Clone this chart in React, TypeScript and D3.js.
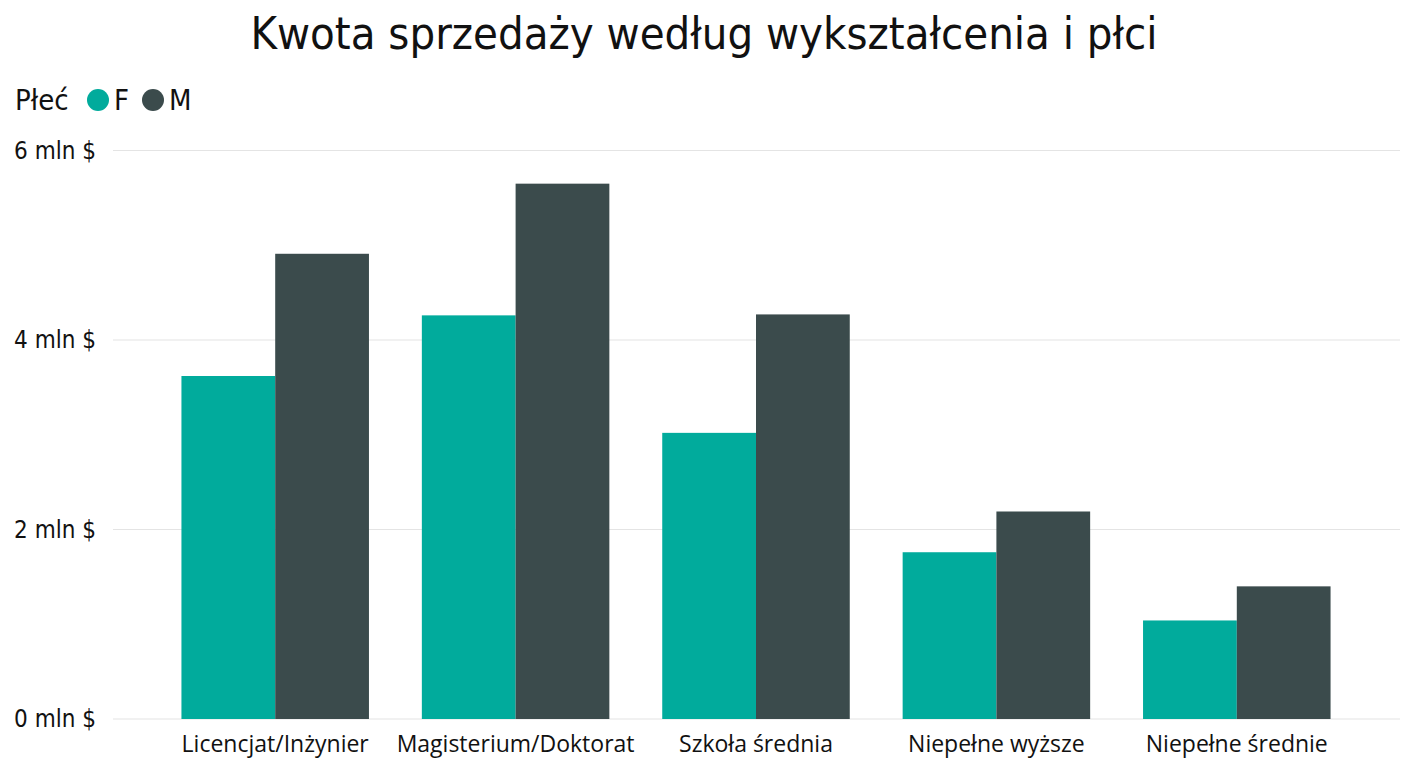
import React, { useEffect, useRef } from 'react';
import * as d3 from 'd3';

const categories = [
  'Licencjat/Inżynier',
  'Magisterium/Doktorat',
  'Szkoła średnia',
  'Niepełne wyższe',
  'Niepełne średnie',
];
const genders = ['F', 'M'];
const valuesF = [3.62, 4.26, 3.02, 1.76, 1.04];
const valuesM = [4.91, 5.65, 4.27, 2.19, 1.4];
const yTicks = [0, 2, 4, 6];

const colors: Record<string, string> = { F: '#01AB9C', M: '#3B4B4C' };
const narrow = "'Liberation Sans Narrow', 'Arial Narrow', 'DejaVu Sans Condensed', 'Roboto', sans-serif";
const labelFont = "'Open Sans', 'Noto Sans', sans-serif";

export default function App() {
  const svgRef = useRef<SVGSVGElement>(null);

  useEffect(() => {
    document.body.style.margin = '0';
    if (!svgRef.current) return;
    const svg = d3.select(svgRef.current);
    svg.selectAll('*').remove();

    const width = 1408;
    const height = 768;

    const x = d3.scaleBand<string>()
      .domain(categories)
      .range([155, 1357])
      .paddingInner(0.22)
      .paddingOuter(0.11);

    const xInner = d3.scaleBand<string>()
      .domain(genders)
      .range([0, x.bandwidth()]);

    const y = d3.scaleLinear()
      .domain([0, 6])
      .range([719, 150.5]);

    svg.attr('width', width).attr('height', height);

    // Title
    svg.append('text')
      .attr('x', width / 2)
      .attr('y', 49)
      .attr('text-anchor', 'middle')
      .attr('font-family', narrow)
      .attr('font-size', '45px')
      .attr('fill', '#111')
      .text('Kwota sprzedaży według wykształcenia i płci');

    // Legend
    const legend = svg.append('g');
    legend.append('text')
      .attr('x', 15)
      .attr('y', 110)
      .attr('font-family', narrow)
      .attr('font-size', '29px')
      .attr('fill', '#111')
      .text('Płeć');
    const legendPos = [{ g: 'F', cx: 98, tx: 114 }, { g: 'M', cx: 153, tx: 169 }];
    legendPos.forEach(p => {
      legend.append('circle')
        .attr('cx', p.cx)
        .attr('cy', 100)
        .attr('r', 11)
        .attr('fill', colors[p.g]);
      legend.append('text')
        .attr('x', p.tx)
        .attr('y', 110)
        .attr('font-family', narrow)
        .attr('font-size', '29px')
        .attr('fill', '#111')
        .text(p.g);
    });

    // Grid lines
    svg.append('g')
      .selectAll('line')
      .data(yTicks)
      .enter()
      .append('line')
      .attr('x1', 113)
      .attr('x2', 1400)
      .attr('y1', d => y(d))
      .attr('y2', d => y(d))
      .attr('stroke', '#e4e4e4')
      .attr('stroke-width', 1.2);

    // Y tick labels
    svg.append('g')
      .selectAll('text')
      .data(yTicks)
      .enter()
      .append('text')
      .attr('x', 96)
      .attr('y', d => y(d) + 8)
      .attr('text-anchor', 'end')
      .attr('font-family', narrow)
      .attr('font-size', '24px')
      .attr('fill', '#111')
      .text(d => `${d} mln $`);

    // Bars
    const data = categories.map((c, i) => ({ c, F: valuesF[i], M: valuesM[i] }));
    const groups = svg.append('g')
      .selectAll('g')
      .data(data)
      .enter()
      .append('g')
      .attr('transform', d => `translate(${x(d.c)},0)`);

    groups.selectAll('rect')
      .data(d => genders.map(g => ({ g, v: (d as any)[g] as number })))
      .enter()
      .append('rect')
      .attr('x', d => xInner(d.g)!)
      .attr('width', xInner.bandwidth())
      .attr('y', d => y(d.v))
      .attr('height', d => y(0) - y(d.v))
      .attr('fill', d => colors[d.g]);

    // X labels
    svg.append('g')
      .selectAll('text')
      .data(categories)
      .enter()
      .append('text')
      .attr('x', d => x(d)! + x.bandwidth() / 2)
      .attr('y', 752)
      .attr('text-anchor', 'middle')
      .attr('font-family', labelFont)
      .attr('font-size', '23px')
      .attr('fill', '#111')
      .text(d => d);
  }, []);

  return <svg ref={svgRef} style={{ display: 'block', background: '#fff' }} />;
}
